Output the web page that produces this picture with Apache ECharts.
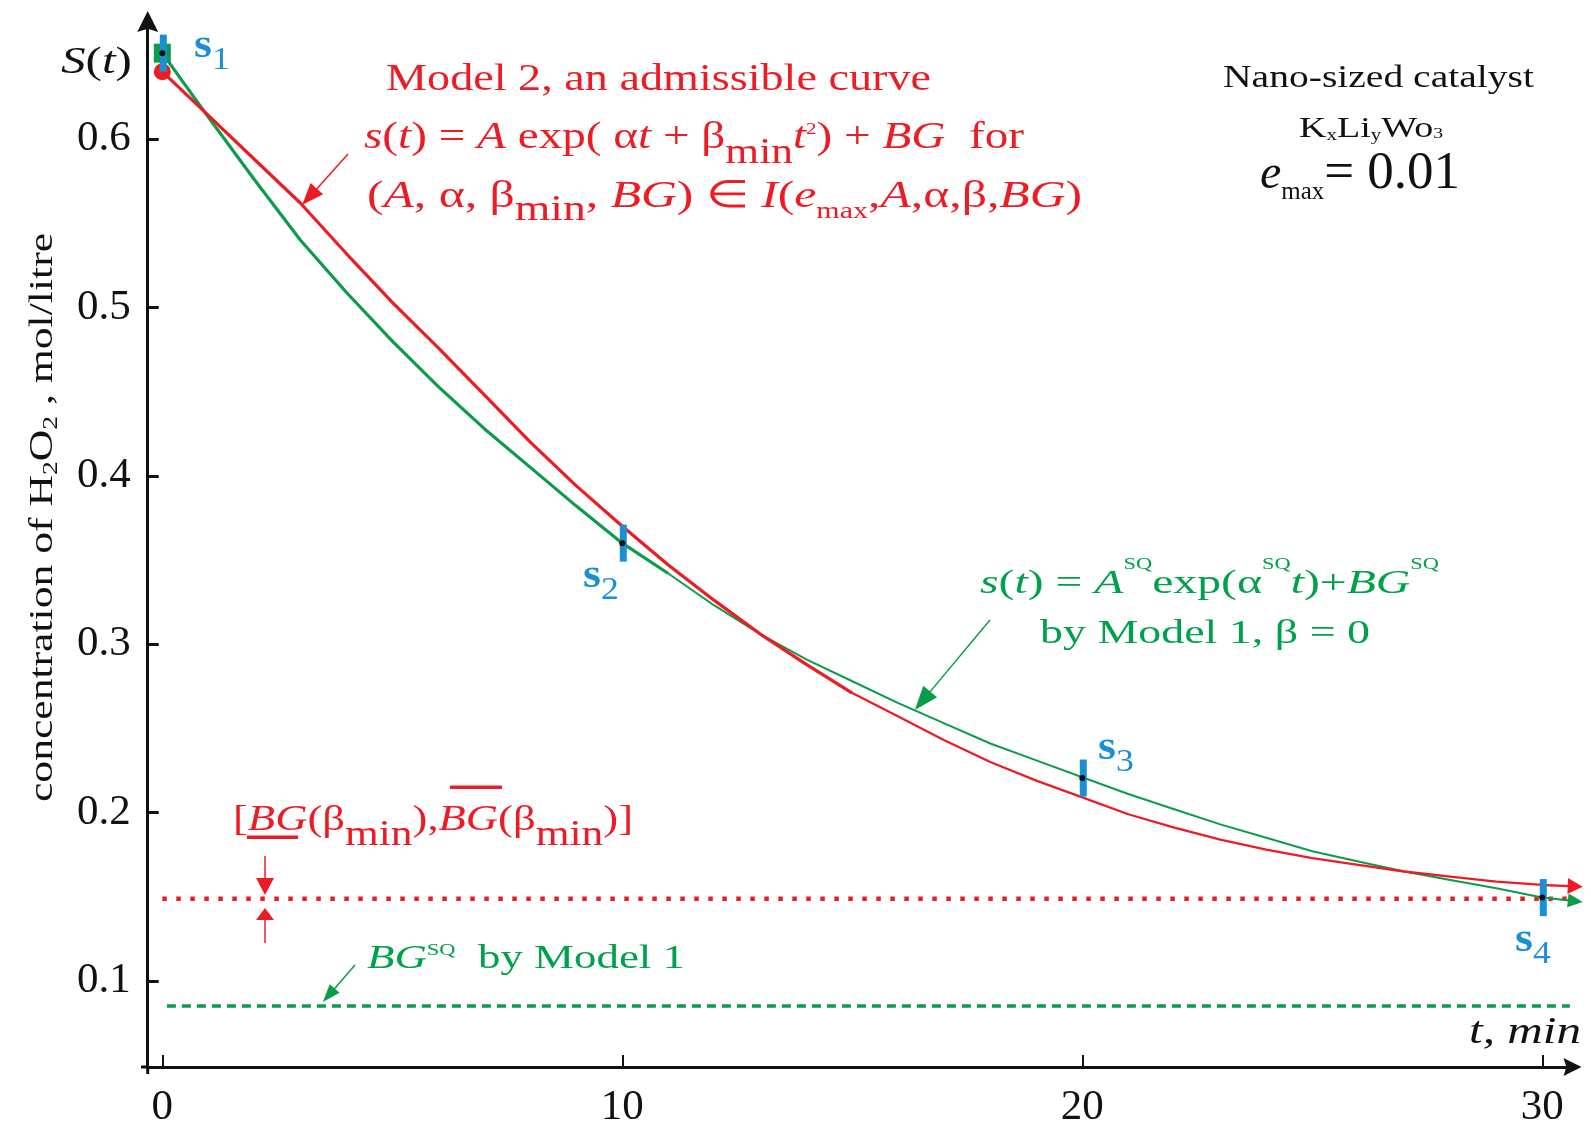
<!DOCTYPE html>
<html><head><meta charset="utf-8">
<script src="https://cdn.jsdelivr.net/npm/echarts@6/dist/echarts.min.js"></script>
<style>html,body{margin:0;padding:0;background:#fff}#c{width:1591px;height:1124px}</style>
</head><body><div id="c"></div>
<script>
// ---------------- data ----------------
const tGrid = [0,1,2,3,4,5,6,7,8,9,10,11,12,13,14,15,16,17,18,19,20,21,22,23,24,25,26,27,28,29,30];
const model2Red = [0.640,0.614,0.588,0.562,0.532,0.503,0.476,0.448,0.420,0.394,0.370,0.347,0.326,0.306,0.288,0.271,0.257,0.243,0.230,0.219,0.209,0.199,0.191,0.184,0.178,0.173,0.169,0.165,0.162,0.159,0.157];
const model1Green = [0.651,0.613,0.576,0.540,0.509,0.480,0.453,0.428,0.405,0.382,0.360,0.342,0.323,0.306,0.291,0.278,0.265,0.253,0.241,0.231,0.221,0.211,0.202,0.193,0.185,0.177,0.171,0.165,0.160,0.155,0.1495];
const redEndTip = [30.88, 0.156];
const greenEndTip = [30.88, 0.1469];
const sTimes = [0, 10, 20, 30];
const sValues = [0.651, 0.360, 0.2205, 0.1495];
const sNames = ['1', '2', '3', '4'];
const sBarHalf = 0.011;
const bgRedLevel = 0.1488;
const bgRedSpan = [0, 30.8];
const bgGreenLevel = 0.0852;
const bgGreenSpan = [0.1, 30.6];
const xTicks = [0, 10, 20, 30];
const xTickLabels = ['0', '10', '20', '30'];
const yTicks = [0.1, 0.2, 0.3, 0.4, 0.5, 0.6];
const yTickLabels = ['0.1', '0.2', '0.3', '0.4', '0.5', '0.6'];
// annotation arrows: [fromT, fromValue, tipT, tipValue]
const annArrows = [
  [4.037, 0.5911, 3.04, 0.5608],
  [17.993, 0.3144, 16.36, 0.2609],
  [4.189, 0.1095, 3.49, 0.0875],
  [2.233, 0.1742, 2.233, 0.1511],
  [2.233, 0.1226, 2.233, 0.1434]
];

// ---------------- styles ----------------
const RED = '#ed1c24', GREEN = '#0b9c4a', GREEN_TXT = '#00a14b', BLUE = '#1a8fd5', INK = '#111';
const FONT = 'Liberation Serif';
const X_MIN = -0.3174, X_MAX = 30.657, Y_MIN = 0.0489, Y_MAX = 0.6698;
const ARROW = 'path://M50,0 L100,100 L50,84 L0,100 Z';
const arrowStyles = [
  {c: RED, w: 1.5, hl: 22, hw: 17},
  {c: GREEN, w: 1.5, hl: 24, hw: 18},
  {c: GREEN, w: 1.5, hl: 18, hw: 13},
  {c: RED, w: 1.5, hl: 17, hw: 18},
  {c: RED, w: 1.5, hl: 12, hw: 18},
  {c: RED, w: 2.3, hl: 15, hw: 16},
  {c: GREEN, w: 2.0, hl: 15, hw: 14}
];

// ---------------- text layout helper ----------------
const mctx = document.createElement('canvas').getContext('2d');
function fontOf(s) { return (s.it ? 'italic ' : 'normal ') + (s.b ? 'bold ' : 'normal ') + s.fs + 'px ' + FONT; }
function layout(spec) {
  const ws = spec.segs.map(s => { mctx.font = fontOf(s); return mctx.measureText(s.t).width; });
  const nat = ws.reduce((a, b) => a + b, 0);
  const k = spec.w ? spec.w / nat : (spec.k || 1);
  let cx = spec.x;
  return spec.segs.map((s, i) => {
    mctx.font = fontOf(s); mctx.textBaseline = 'middle';
    const off = mctx.measureText('H').actualBoundingBoxDescent;
    const el = {type: 'text', x: cx, y: spec.y + (s.dy || 0) - off, scaleX: k, silent: true, z: 100,
      style: {text: s.t, fontFamily: FONT, fontSize: s.fs, fontStyle: s.it ? 'italic' : 'normal',
        fontWeight: s.b ? 'bold' : 'normal', fill: s.c || spec.c, align: 'left', verticalAlign: 'middle'}};
    cx += ws[i] * k;
    return el;
  });
}
const I = (t, fs, o) => Object.assign({t, fs, it: true}, o || {});
const N = (t, fs, o) => Object.assign({t, fs}, o || {});

const textSpecs = [
  {x: 61, y: 73, w: 71, c: INK, segs: [I('S', 37), N('(', 37), I('t', 37), N(')', 37)]},
  {x: 386, y: 90, w: 545, c: RED, segs: [N('Model 2, an admissible curve', 38)]},
  {x: 364, y: 148, w: 660, c: RED, segs: [I('s', 38), N('(', 38), I('t', 38), N(') = ', 38), I('A', 38), N(' exp( α', 38), I('t', 38), N(' + β', 38), N('min', 35, {dy: 15}), I('t', 38), N('2', 17, {dy: -14}), N(') + ', 38), I('BG', 38), N('  for', 38)]},
  {x: 367, y: 207, w: 715, c: RED, segs: [N('(', 38), I('A', 38), N(', α, β', 38), N('min', 35, {dy: 13}), N(', ', 38), I('BG', 38), N(') ∈ ', 38), I('I', 38), N('(', 38), I('e', 38), N('max', 23, {dy: 11}), N(',', 38), I('A', 38), N(',α,β,', 38), I('BG', 38), N(')', 38)]},
  {x: 1223, y: 87, w: 311, c: INK, segs: [N('Nano-sized catalyst', 31)]},
  {x: 1299, y: 137, w: 144, c: INK, segs: [N('K', 29), N('x', 16, {dy: 3}), N('Li', 29), N('y', 16, {dy: 3}), N('Wo', 29), N('3', 15, {dy: 1})]},
  {x: 1260, y: 188, w: 200, c: INK, segs: [I('e', 48), N('max', 25, {dy: 11}), N('= 0.01', 53)]},
  {x: 980, y: 593, w: 459, c: GREEN_TXT, segs: [I('s', 34), N('(', 34), I('t', 34), N(') = ', 34), I('A', 34), N('SQ', 16, {dy: -24}), N('exp(α', 34), N('SQ', 16, {dy: -24}), I('t', 34), N(')+', 34), I('BG', 34), N('SQ', 16, {dy: -24})]},
  {x: 1040, y: 643, w: 330, c: GREEN_TXT, segs: [N('by Model 1, β = 0', 34)]},
  {x: 233, y: 830, w: 400, c: RED, segs: [N('[', 36), I('BG', 36), N('(β', 36), N('min', 35, {dy: 15}), N('),', 36), I('BG', 36), N('(β', 36), N('min', 35, {dy: 15}), N(')]', 36)]},
  {x: 367, y: 968, w: 318, c: GREEN_TXT, segs: [I('BG', 34), N('SQ', 17, {dy: -13}), N('  by Model 1', 34)]},
  {x: 1469, y: 1043, w: 112, c: INK, segs: [I('t, min', 38)]}
];
const sLabelPos = [[194, 57], [583, 587], [1098, 759], [1515, 951]];

let graphics = [];
textSpecs.forEach(s => { graphics = graphics.concat(layout(s)); });
sLabelPos.forEach((p, i) => {
  graphics = graphics.concat(layout({x: p[0], y: p[1], k: 1.15, c: BLUE, segs: [N('s', 40, {b: true}), N(sNames[i], 31, {dy: 12})]}));
});
// under / over bars of the BG interval text
graphics.push({type: 'rect', shape: {x: 247, y: 835.5, width: 51, height: 3.5}, style: {fill: RED}, silent: true, z: 100});
graphics.push({type: 'rect', shape: {x: 450, y: 785.5, width: 52, height: 3.5}, style: {fill: RED}, silent: true, z: 100});
// small overhang of the axes past their crossing point
graphics.push({type: 'line', shape: {x1: 141, y1: 1067, x2: 149, y2: 1067}, style: {stroke: INK, lineWidth: 3}, silent: true, z: 50});
graphics.push({type: 'line', shape: {x1: 147.7, y1: 1066, x2: 147.7, y2: 1074}, style: {stroke: INK, lineWidth: 3}, silent: true, z: 50});
// rotated y-axis title
graphics.push({type: 'group', x: 52, y: 802, rotation: Math.PI / 2, silent: true, z: 100,
  children: layout({x: 0, y: 0, w: 569, c: INK, segs: [N('concentration of H', 33), N('2', 21, {dy: 5}), N('O', 33), N('2', 21, {dy: 5}), N(' , mol/litre', 33)]})});

// ---------------- series ----------------
function pts(times, vals, from, to) { const out = []; for (let i = from; i <= to; i++) out.push([times[i], vals[i]]); return out; }
const lineBase = {type: 'line', symbol: 'none', silent: true, clip: false, animation: false, emphasis: {disabled: true}, z: 2};
const arrowData = annArrows.concat([
  [tGrid[30], model2Red[30], redEndTip[0], redEndTip[1]],
  [tGrid[30], model1Green[30], greenEndTip[0], greenEndTip[1]]
]);

const option = {
  animation: false,
  backgroundColor: '#fff',
  grid: {left: 147.7, right: 18.5, top: 21.5, bottom: 57, containLabel: false, outerBoundsMode: 'none'},
  xAxis: {
    type: 'value', min: X_MIN, max: X_MAX, splitLine: {show: false},
    axisLine: {show: true, onZero: false, symbol: ['none', ARROW], symbolSize: [18, 31], lineStyle: {color: INK, width: 3}},
    axisTick: {show: true, inside: true, length: 12, customValues: xTicks, lineStyle: {color: INK, width: 2}},
    axisLabel: {show: true, customValues: xTicks, margin: 19, color: INK, fontSize: 43, fontFamily: FONT,
      formatter: v => { const i = xTicks.findIndex(t => Math.abs(t - v) < 1e-9); return i < 0 ? '' : xTickLabels[i]; }}
  },
  yAxis: {
    type: 'value', min: Y_MIN, max: Y_MAX, splitLine: {show: false},
    axisLine: {show: true, onZero: false, symbol: ['none', ARROW], symbolSize: [21, 24], lineStyle: {color: INK, width: 3}},
    axisTick: {show: true, inside: true, length: 11, customValues: yTicks, lineStyle: {color: INK, width: 3}},
    axisLabel: {show: true, customValues: yTicks, margin: 17, color: INK, fontSize: 43, fontFamily: FONT,
      formatter: v => { const i = yTicks.findIndex(t => Math.abs(t - v) < 1e-9); return i < 0 ? '' : yTickLabels[i]; }}
  },
  graphic: {elements: graphics},
  series: [
    Object.assign({}, lineBase, {name: 'bgRed', data: [[bgRedSpan[0], bgRedLevel], [bgRedSpan[1], bgRedLevel]], lineStyle: {color: RED, width: 4.5, type: [4.5, 9.5]}}),
    Object.assign({}, lineBase, {name: 'bgGreen', data: [[bgGreenSpan[0], bgGreenLevel], [bgGreenSpan[1], bgGreenLevel]], lineStyle: {color: GREEN, width: 3.5, type: [9, 6]}}),
    Object.assign({}, lineBase, {name: 'greenHead', data: pts(tGrid, model1Green, 0, 11), lineStyle: {color: GREEN, width: 3.2}}),
    Object.assign({}, lineBase, {name: 'greenTail', data: pts(tGrid, model1Green, 11, 30), lineStyle: {color: GREEN, width: 2}}),
    Object.assign({}, lineBase, {name: 'redHead', data: pts(tGrid, model2Red, 0, 15), lineStyle: {color: RED, width: 3.2}}),
    Object.assign({}, lineBase, {name: 'redTail', data: pts(tGrid, model2Red, 15, 30), lineStyle: {color: RED, width: 2.3}}),
    {
      type: 'custom', name: 'arrows', silent: true, clip: false, z: 3, data: arrowData, encode: {x: [0, 2], y: [1, 3]},
      renderItem(params, api) {
        const a = api.coord([api.value(0), api.value(1)]);
        const b = api.coord([api.value(2), api.value(3)]);
        const st = arrowStyles[params.dataIndex];
        const dx = b[0] - a[0], dy = b[1] - a[1], L = Math.hypot(dx, dy), ux = dx / L, uy = dy / L;
        const bx = b[0] - ux * st.hl, by = b[1] - uy * st.hl, px = -uy, py = ux;
        return {type: 'group', children: [
          {type: 'line', shape: {x1: a[0], y1: a[1], x2: bx + ux * 2, y2: by + uy * 2}, style: {stroke: st.c, lineWidth: st.w}},
          {type: 'polygon', shape: {points: [[b[0], b[1]], [bx + px * st.hw / 2, by + py * st.hw / 2], [bx - px * st.hw / 2, by - py * st.hw / 2]]}, style: {fill: st.c}}
        ]};
      }
    },
    {type: 'scatter', name: 'redStart', silent: true, z: 4, symbol: 'circle', symbolSize: 17, data: [[tGrid[0], model2Red[0]]], itemStyle: {color: RED, opacity: 1}},
    {type: 'scatter', name: 'greenStart', silent: true, z: 5, symbol: 'rect', symbolSize: [17, 19], data: [[tGrid[0], model1Green[0]]], itemStyle: {color: GREEN, opacity: 1}},
    {
      type: 'custom', name: 'sBars', silent: true, clip: false, z: 6, data: sTimes.map((t, i) => [t, sValues[i]]), encode: {x: 0, y: 1},
      renderItem(params, api) {
        const t = api.value(0), v = api.value(1);
        const p1 = api.coord([t, v + sBarHalf]), p2 = api.coord([t, v - sBarHalf]);
        return {type: 'rect', shape: {x: p1[0] - 3.5 + 1, y: p1[1], width: 7, height: p2[1] - p1[1]}, style: {fill: BLUE}};
      }
    },
    {type: 'scatter', name: 'sPoints', silent: true, z: 7, symbol: 'circle', symbolSize: 6, data: sTimes.map((t, i) => [t, sValues[i]]), itemStyle: {color: INK, opacity: 1}}
  ]
};
const chart = echarts.init(document.getElementById('c'), null, {renderer: 'canvas'});
chart.setOption(option);
</script>
</body></html>
